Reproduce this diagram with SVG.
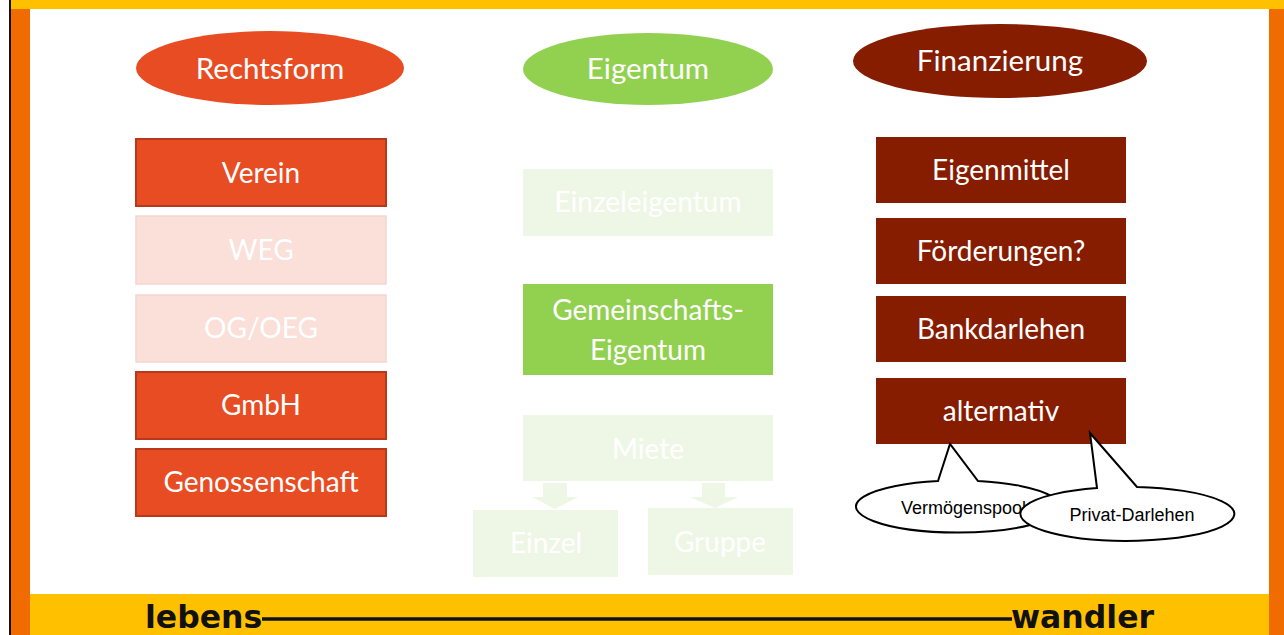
<svg xmlns="http://www.w3.org/2000/svg" width="1284" height="635" viewBox="0 0 1284 635">
<style>
.t{font-family:Lato,"Open Sans",sans-serif;font-size:28px;fill:#fff;text-anchor:middle}
.h{font-size:29.5px}
.red{fill:#E84C22}
.redb{fill:#E84C22;stroke:#B7381A;stroke-width:2}
.redf{fill:#FAE0D9;stroke:#F3D6CE;stroke-width:1.5}
.grn{fill:#92D050}
.grnf{fill:#EEF7E5}
.brn{fill:#861C00}
.c{font-family:"Liberation Sans",Arial,sans-serif;font-size:18px;fill:#000}
.bub{fill:#fff;stroke:#000;stroke-width:2}
.logo{font-family:"DejaVu Sans",sans-serif;font-weight:bold;font-size:31.5px;fill:#111}
</style>
<rect x="0" y="0" width="1284" height="635" fill="#fff"/>
<g id="frame">
<rect x="9" y="0" width="1275" height="9" fill="#FFC000"/>
<rect x="30" y="594" width="1239" height="41" fill="#FFC000"/>
<rect x="9" y="0" width="2" height="635" fill="#111"/>
<rect x="11" y="9" width="19" height="626" fill="#F06C00"/>
<rect x="1269" y="9" width="15" height="626" fill="#F06C00"/>
</g>
<g id="logo">
<text class="logo" x="145" y="628">lebens</text>
<line x1="262" y1="619" x2="1012" y2="619" stroke="#111" stroke-width="3.5"/>
<text class="logo" x="1011" y="628">wandler</text>
</g>
<g id="rechtsform"><ellipse class="red" cx="270" cy="68" rx="134" ry="37"/><text class="t h" x="270" y="79">Rechtsform</text></g>
<g id="eigentum"><ellipse class="grn" cx="648" cy="69" rx="125" ry="36"/><text class="t h" x="648" y="79">Eigentum</text></g>
<g id="finanzierung"><ellipse class="brn" cx="1000" cy="61" rx="147" ry="37"/><text class="t h" x="1000" y="71">Finanzierung</text></g>

<g id="verein"><rect class="redb" x="136" y="139" width="250" height="67"/><text class="t" x="261" y="183">Verein</text></g>
<g id="weg"><rect class="redf" x="136" y="216" width="250" height="68"/><text class="t" x="261" y="260">WEG</text></g>
<g id="og"><rect class="redf" x="136" y="295" width="250" height="67"/><text class="t" x="261" y="338">OG/OEG</text></g>
<g id="gmbh"><rect class="redb" x="136" y="372" width="250" height="67"/><text class="t" x="261" y="415">GmbH</text></g>
<g id="genossenschaft"><rect class="redb" x="136" y="449" width="250" height="67"/><text class="t" x="261" y="492">Genossenschaft</text></g>

<g id="einzeleigentum"><rect class="grnf" x="523" y="169" width="250" height="67"/><text class="t" x="648" y="212">Einzeleigentum</text></g>
<g id="gemeinschaft"><rect class="grn" x="523" y="284" width="250" height="91"/><text class="t" x="648" y="320">Gemeinschafts-</text><text class="t" x="648" y="360">Eigentum</text></g>
<g id="miete"><rect class="grnf" x="523" y="415" width="250" height="66"/><text class="t" x="648" y="459">Miete</text></g>
<g id="connectors">
<polygon class="grnf" points="543,483 567,483 567,497 578,497 555,509 532,497 543,497"/>
<polygon class="grnf" points="702,483 725,483 725,497 738,497 715,508 690,497 702,497"/>
</g>
<g id="einzel"><rect class="grnf" x="473" y="510" width="145" height="67"/><text class="t" x="546" y="553">Einzel</text></g>
<g id="gruppe"><rect class="grnf" x="648" y="508" width="145" height="67"/><text class="t" x="720" y="552">Gruppe</text></g>

<g id="eigenmittel"><rect class="brn" x="876" y="137" width="250" height="66"/><text class="t" x="1001" y="180">Eigenmittel</text></g>
<g id="foerderungen"><rect class="brn" x="876" y="218" width="250" height="66"/><text class="t" x="1001" y="261">Förderungen?</text></g>
<g id="bankdarlehen"><rect class="brn" x="876" y="296" width="250" height="66"/><text class="t" x="1001" y="339">Bankdarlehen</text></g>
<g id="alternativ"><rect class="brn" x="876" y="378" width="250" height="66"/><text class="t" x="1001" y="421">alternativ</text></g>

<g id="vermoegenspool">
<path class="bub" d="M938,481 L950,444 L978,481 A102,26 0 1 1 938,481 Z"/>
<text class="c" x="901" y="514">Vermögenspool</text>
</g>
<g id="privatdarlehen">
<path class="bub" d="M1097,488 L1090,433 L1137,487 A107,27 0 1 1 1097,488 Z"/>
<text class="c" x="1132" y="521" text-anchor="middle">Privat-Darlehen</text>
</g>
</svg>
